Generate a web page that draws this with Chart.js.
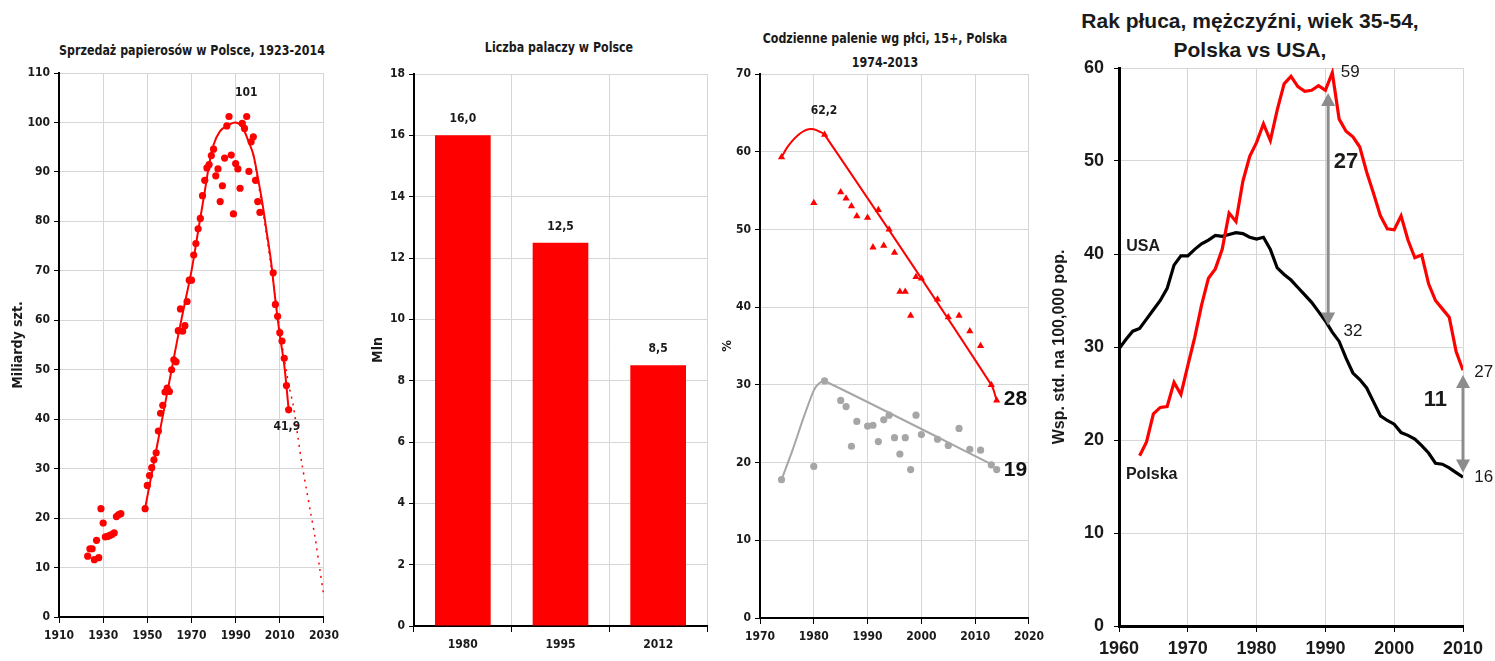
<!DOCTYPE html>
<html>
<head>
<meta charset="utf-8">
<script src="https://cdn.jsdelivr.net/npm/chart.js@4.4.1/dist/chart.umd.min.js"></script>
<style>
  body { margin: 0; background: #fff; width: 1495px; height: 661px; overflow: hidden; position: relative; }
  .panel { position: absolute; }
  .title { position: absolute; text-align: center; font-weight: bold; color: #1a1a1a; white-space: nowrap; transform: translateX(-50%); }
  .narrow { font-family: "Liberation Sans Narrow", "Arial Narrow", "DejaVu Sans Condensed", sans-serif; transform: translateX(-50%) scaleX(0.88); }
  .wide { font-family: "Liberation Sans", Arial, sans-serif; }
</style>
</head>
<body>
<div class="title narrow" style="left:192px;top:41px;font-size:14px;line-height:18px">Sprzedaż papierosów w Polsce, 1923-2014</div>
<div class="title narrow" style="left:559px;top:38px;font-size:14px;line-height:18px">Liczba palaczy w Polsce</div>
<div class="title narrow" style="left:885px;top:26px;font-size:14px;line-height:24px">Codzienne palenie wg płci, 15+, Polska<br>1974-2013</div>
<div class="title wide" style="left:1250px;top:6px;font-size:21px;line-height:29px">Rak płuca, mężczyźni, wiek 35-54,<br>Polska vs USA,</div>

<div class="panel" style="left:0;top:60px;width:345px;height:600px"><canvas id="sales"></canvas></div>
<div class="panel" style="left:360px;top:60px;width:360px;height:600px"><canvas id="smokers"></canvas></div>
<div class="panel" style="left:720px;top:60px;width:330px;height:600px"><canvas id="daily"></canvas></div>
<div class="panel" style="left:1050px;top:55px;width:445px;height:606px"><canvas id="cancer"></canvas></div>

<script>
// --- Sprzedaż papierosów (mld szt.) ---
const salesYears = [1923, 1924, 1925, 1926, 1927, 1928, 1929, 1930, 1931, 1932, 1933, 1934, 1935, 1936, 1937, 1938,
  1949, 1950, 1951, 1952, 1953, 1954, 1955, 1956, 1957, 1958, 1959, 1960, 1961, 1962, 1963, 1964, 1965, 1966, 1967, 1968,
  1969, 1970, 1971, 1972, 1973, 1974, 1975, 1976, 1977, 1978, 1979, 1980, 1981, 1982, 1983, 1984, 1985, 1986, 1987, 1988,
  1989, 1990, 1991, 1992, 1993, 1994, 1995, 1996, 1997, 1998, 1999, 2000, 2001, 2007, 2008, 2009, 2010, 2011, 2012, 2013, 2014];
const salesValues = [12.3, 13.8, 13.8, 11.6, 15.5, 12.0, 21.9, 19.0, 16.2, 16.3, 16.5, 16.7, 17.0, 20.3, 20.7, 20.9,
  21.9, 26.6, 28.6, 30.2, 31.8, 33.2, 37.6, 41.2, 42.8, 45.5, 46.3, 45.6, 50.0, 52.0, 51.6, 57.9, 62.3, 57.8, 58.9, 63.8,
  68.1, 68.1, 73.2, 75.5, 78.5, 80.6, 85.2, 88.3, 90.8, 91.5, 93.3, 94.6, 89.2, 90.6, 84.0, 87.2, 92.8, 99.3, 101.2, 93.4,
  81.5, 91.7, 90.6, 86.7, 99.8, 98.8, 101.2, 90.1, 96.1, 97.1, 88.3, 84.0, 81.8, 69.6, 63.2, 60.8, 57.5, 55.8, 52.3, 46.8, 41.9];
const salesTrendYears = [1949, 1952, 1955, 1958, 1961, 1964, 1967, 1970, 1973, 1976, 1978, 1980, 1983, 1986, 1990, 1993,
  1996, 1998, 2000, 2002, 2004, 2006, 2008, 2010, 2012, 2014];
const salesTrendValues = [22, 29, 36, 43, 50, 57, 63.5, 70, 78, 86, 91.5, 95.5, 98.3, 99.3, 100, 99, 96, 93.5, 89, 84, 78,
  72, 64, 57, 51, 42];
const salesProjYears = [1998, 2002, 2006, 2010, 2014, 2016, 2018, 2020, 2022, 2024, 2026, 2028, 2030];
const salesProjValues = [93.5, 83, 71, 58, 47, 43, 37, 31, 26, 21, 16, 10, 4];

// --- Liczba palaczy (mln) ---
const smokerYears = ['1980', '1995', '2012'];
const smokerCounts = [16.0, 12.5, 8.5];

// --- Codzienne palenie wg płci (%) ---
const menYears = [1974, 1980, 1982, 1985, 1986, 1987, 1988, 1990, 1991, 1992, 1993, 1994, 1995, 1996, 1997, 1998, 1999,
  2000, 2003, 2005, 2007, 2009, 2011, 2013, 2014];
const menValues = [59.3, 53.4, 62.2, 54.8, 54.0, 53.0, 51.7, 51.5, 47.7, 52.5, 47.9, 50.0, 47.0, 42.0, 42.0, 38.9, 43.9,
  43.7, 41.0, 38.7, 38.9, 36.9, 35.0, 30.0, 28.0];
const menTrendYears = [1974, 1975, 1976, 1977, 1978, 1979, 1980, 1981, 1982, 2013, 2014];
const menTrendValues = [59.3, 60.5, 61.4, 62.1, 62.6, 62.9, 62.9, 62.6, 62.2, 30.0, 28.0];
const womenYears = [1974, 1980, 1982, 1985, 1986, 1987, 1988, 1990, 1991, 1992, 1993, 1994, 1995, 1996, 1997, 1998, 1999,
  2000, 2003, 2005, 2007, 2009, 2011, 2013, 2014];
const womenValues = [17.8, 19.5, 30.5, 28.0, 27.2, 22.1, 25.3, 24.7, 24.8, 22.7, 25.5, 26.1, 23.2, 21.1, 23.2, 19.1, 26.1,
  23.6, 23.0, 22.2, 24.4, 21.7, 21.6, 19.7, 19.1];
const womenTrendYears = [1974, 1976, 1978, 1980, 1981, 1982, 2013];
const womenTrendValues = [17.8, 21.5, 25.6, 29.3, 30.2, 30.5, 19.8];

// --- Rak płuca, mężczyźni 35-54 (wsp. std. na 100 000) ---
const usaYears = [1960, 1961, 1962, 1963, 1964, 1965, 1966, 1967, 1968, 1969, 1970, 1971, 1972, 1973, 1974, 1975, 1976,
  1977, 1978, 1979, 1980, 1981, 1982, 1983, 1984, 1985, 1986, 1987, 1988, 1989, 1990, 1991, 1992, 1993, 1994, 1995, 1996,
  1997, 1998, 1999, 2000, 2001, 2002, 2003, 2004, 2005, 2006, 2007, 2008, 2009, 2010];
const usaRates = [29.8, 30.8, 31.7, 32.0, 33.0, 34.0, 35.0, 36.3, 38.8, 39.8, 39.8, 40.5, 41.1, 41.5, 42.0, 41.9, 42.1,
  42.3, 42.2, 41.8, 41.6, 41.8, 40.5, 38.5, 37.8, 37.2, 36.4, 35.6, 34.8, 33.8, 32.8, 31.6, 30.6, 28.8, 27.2, 26.5, 25.6,
  24.1, 22.6, 22.1, 21.7, 20.8, 20.5, 20.1, 19.4, 18.6, 17.5, 17.4, 17.0, 16.5, 16.0];
const polandYears = [1963, 1964, 1965, 1966, 1967, 1968, 1969, 1970, 1971, 1972, 1973, 1974, 1975, 1976, 1977, 1978, 1979,
  1980, 1981, 1982, 1983, 1984, 1985, 1986, 1987, 1988, 1989, 1990, 1991, 1992, 1993, 1994, 1995, 1996, 1997, 1998, 1999,
  2000, 2001, 2002, 2003, 2004, 2005, 2006, 2007, 2008, 2009, 2010];
const polandRates = [18.3, 19.8, 22.8, 23.5, 23.6, 26.2, 24.9, 28.0, 31.0, 34.5, 37.4, 38.4, 40.5, 44.4, 43.5, 47.8, 50.5,
  52.0, 54.0, 52.2, 55.5, 58.3, 59.1, 58.0, 57.5, 57.6, 58.1, 57.6, 59.5, 54.5, 53.2, 52.6, 51.5, 48.8, 46.5, 44.1, 42.7,
  42.6, 44.1, 41.5, 39.6, 39.9, 36.8, 35.0, 34.1, 33.2, 29.5, 27.5];

const NARROW = '"Liberation Sans Narrow", "Arial Narrow", "DejaVu Sans Condensed", sans-serif';
const WIDE = '"Liberation Sans", Arial, sans-serif';
const RED = '#ff0000';
const GRID = '#d6d6d6';
const INK = '#1a1a1a';

const pts = (xs, ys) => xs.map((x, i) => ({ x, y: ys[i] }));
const fmt = v => v.toFixed(1).replace('.', ',');

// text placed at data coordinates, drawn through the chart's own scales
function labelPlugin(items) {
  return {
    id: 'labels',
    afterDatasetsDraw(chart) {
      const { ctx, scales: { x, y } } = chart;
      items.forEach(it => {
        ctx.save();
        ctx.font = it.f;
        ctx.fillStyle = it.c || INK;
        ctx.textAlign = it.a || 'center';
        ctx.textBaseline = 'middle';
        ctx.fillText(it.t, x.getPixelForValue(it.x), y.getPixelForValue(it.y));
        ctx.restore();
      });
    }
  };
}

function arrowPlugin(arrows) {
  return {
    id: 'arrows',
    afterDatasetsDraw(chart) {
      const { ctx, scales: { x, y } } = chart;
      arrows.forEach(a => {
        const px = x.getPixelForValue(a.x);
        const top = y.getPixelForValue(a.from);
        const bot = y.getPixelForValue(a.to);
        const h = 13, w = 7;
        ctx.save();
        ctx.strokeStyle = ctx.fillStyle = '#8c8c8c';
        ctx.lineWidth = 3;
        ctx.beginPath();
        ctx.moveTo(px, top + h - 1);
        ctx.lineTo(px, bot - h + 1);
        ctx.stroke();
        ctx.beginPath();
        ctx.moveTo(px, top); ctx.lineTo(px - w, top + h); ctx.lineTo(px + w, top + h); ctx.closePath();
        ctx.fill();
        ctx.beginPath();
        ctx.moveTo(px, bot); ctx.lineTo(px - w, bot - h); ctx.lineTo(px + w, bot - h); ctx.closePath();
        ctx.fill();
        ctx.restore();
      });
    }
  };
}

function axes(o) {
  const tickFont = { family: o.family, size: o.size, weight: 'bold' };
  const x = {
    type: o.xType || 'linear',
    afterFit: s => { s.height = o.xH; },
    border: { color: '#000', width: o.bw },
    grid: { color: GRID, tickColor: '#000', tickLength: 6, offset: o.xType === 'category' },
    ticks: { color: INK, font: tickFont, padding: 6, maxRotation: 0 }
  };
  if (o.xType !== 'category') {
    x.min = o.xMin;
    x.max = o.xMax;
    x.ticks.stepSize = o.xStep;
    x.ticks.callback = v => String(v);
  }
  return {
    x,
    y: {
      min: 0, max: o.yMax,
      // fixed axis width; let the layout padding alone decide the plot top
      afterFit: s => { s.width = o.yW; s.paddingTop = 0; s.paddingBottom = 0; },
      border: { color: '#000', width: o.bw },
      grid: { color: GRID, tickColor: '#000', tickLength: 5 },
      ticks: { stepSize: o.yStep, color: INK, font: tickFont, padding: o.yPad || 4 },
      title: { display: true, text: o.yTitle, color: INK, font: { family: o.family, size: o.titleSize, weight: 'bold' },
        padding: { top: o.titlePad, bottom: 0 } }
    }
  };
}

const base = (pad) => ({
  responsive: true,
  maintainAspectRatio: false,
  animation: false,
  layout: { padding: pad },
  plugins: { legend: { display: false }, tooltip: { enabled: false } }
});

new Chart(document.getElementById('sales'), {
  type: 'scatter',
  data: {
    datasets: [
      { data: pts(salesYears, salesValues), backgroundColor: RED, borderColor: RED, pointRadius: 3.6, pointBorderWidth: 0 },
      { data: pts(salesTrendYears, salesTrendValues), showLine: true, borderColor: RED, borderWidth: 2, pointRadius: 0, tension: 0.35 },
      { data: pts(salesProjYears, salesProjValues), showLine: true, borderColor: RED, borderWidth: 1.5, borderDash: [2, 5],
        pointRadius: 0, tension: 0.3 }
    ]
  },
  options: Object.assign(base({ left: 0, top: 13, right: 21, bottom: 0 }), {
    scales: axes({ family: NARROW, size: 12, xMin: 1910, xMax: 2030, xStep: 20, xH: 43, yMax: 110, yStep: 10, yW: 59,
      yTitle: 'Miliardy szt.', titleSize: 14, titlePad: 10, bw: 2 })
  }),
  plugins: [labelPlugin([
    { t: '101', x: 1994.8, y: 105.9, f: 'bold 12px ' + NARROW },
    { t: '41,9', x: 2013.2, y: 38.5, f: 'bold 12px ' + NARROW }
  ])]
});

new Chart(document.getElementById('smokers'), {
  type: 'bar',
  data: {
    labels: smokerYears,
    datasets: [{ data: smokerCounts, backgroundColor: RED, categoryPercentage: 1, barPercentage: 0.57 }]
  },
  options: Object.assign(base({ left: 0, top: 14, right: 13, bottom: 0 }), {
    scales: axes({ family: NARROW, size: 12, xType: 'category', xH: 34, yMax: 18, yStep: 2, yW: 54,
      yTitle: 'Mln', titleSize: 14, titlePad: 10, bw: 2 })
  }),
  plugins: [{
    id: 'barValues',
    afterDatasetsDraw(chart) {
      const { ctx } = chart;
      chart.getDatasetMeta(0).data.forEach((bar, i) => {
        ctx.save();
        ctx.font = 'bold 12px ' + NARROW;
        ctx.fillStyle = INK;
        ctx.textAlign = 'center';
        ctx.textBaseline = 'middle';
        ctx.fillText(fmt(smokerCounts[i]), bar.x, bar.y - 16);
        ctx.restore();
      });
    }
  }]
});

new Chart(document.getElementById('daily'), {
  type: 'scatter',
  data: {
    datasets: [
      { data: pts(menYears, menValues), pointStyle: 'triangle', backgroundColor: RED, borderColor: RED, pointRadius: 4.2, pointBorderWidth: 0 },
      { data: pts(womenYears, womenValues), backgroundColor: '#a6a6a6', borderColor: '#a6a6a6', pointRadius: 3.6, pointBorderWidth: 0 },
      { data: pts(menTrendYears, menTrendValues), showLine: true, borderColor: RED, borderWidth: 2, pointRadius: 0, tension: 0.3 },
      { data: pts(womenTrendYears, womenTrendValues), showLine: true, borderColor: '#a6a6a6', borderWidth: 2, pointRadius: 0, tension: 0.2 }
    ]
  },
  options: Object.assign(base({ left: 0, top: 14, right: 17, bottom: 0 }), {
    scales: axes({ family: NARROW, size: 12, xMin: 1970, xMax: 2020, xStep: 10, xH: 42, yMax: 70, yStep: 10, yW: 40,
      yTitle: '%', titleSize: 13, titlePad: 0, bw: 2 })
  }),
  plugins: [labelPlugin([
    { t: '62,2', x: 1981.9, y: 65.2, f: 'bold 12px ' + NARROW },
    { t: '28', x: 2017.5, y: 28.2, f: 'bold 21px ' + WIDE, c: '#111' },
    { t: '19', x: 2017.5, y: 19.0, f: 'bold 21px ' + WIDE, c: '#111' }
  ])]
});

new Chart(document.getElementById('cancer'), {
  type: 'scatter',
  data: {
    datasets: [
      { data: pts(polandYears, polandRates), showLine: true, borderColor: RED, borderWidth: 3.2, pointRadius: 0, tension: 0 },
      { data: pts(usaYears, usaRates), showLine: true, borderColor: '#000', borderWidth: 3.2, pointRadius: 0, tension: 0 }
    ]
  },
  options: Object.assign(base({ left: 0, top: 13, right: 32, bottom: 0 }), {
    scales: axes({ family: WIDE, size: 18, xMin: 1960, xMax: 2010, xStep: 10, xH: 35, yMax: 60, yStep: 10, yW: 69,
      yPad: 10, yTitle: 'Wsp. std. na 100,000 pop.', titleSize: 16, titlePad: 0, bw: 3 })
  }),
  plugins: [
    arrowPlugin([
      { x: 1990.4, from: 57.3, to: 32.3 },
      { x: 2010, from: 27.0, to: 16.5 }
    ]),
    labelPlugin([
      { t: '59', x: 1993.6, y: 59.5, f: '17px ' + WIDE },
      { t: '27', x: 1993.0, y: 49.9, f: 'bold 22px ' + WIDE },
      { t: '32', x: 1994.0, y: 31.7, f: '17px ' + WIDE },
      { t: '27', x: 2013.0, y: 27.3, f: '17px ' + WIDE },
      { t: '16', x: 2013.0, y: 16.0, f: '17px ' + WIDE },
      { t: '11', x: 2006.0, y: 24.3, f: 'bold 22px ' + WIDE },
      { t: 'USA', x: 1963.5, y: 40.8, f: 'bold 16px ' + WIDE },
      { t: 'Polska', x: 1964.75, y: 16.3, f: 'bold 16px ' + WIDE }
    ])
  ]
});
</script>
</body>
</html>
